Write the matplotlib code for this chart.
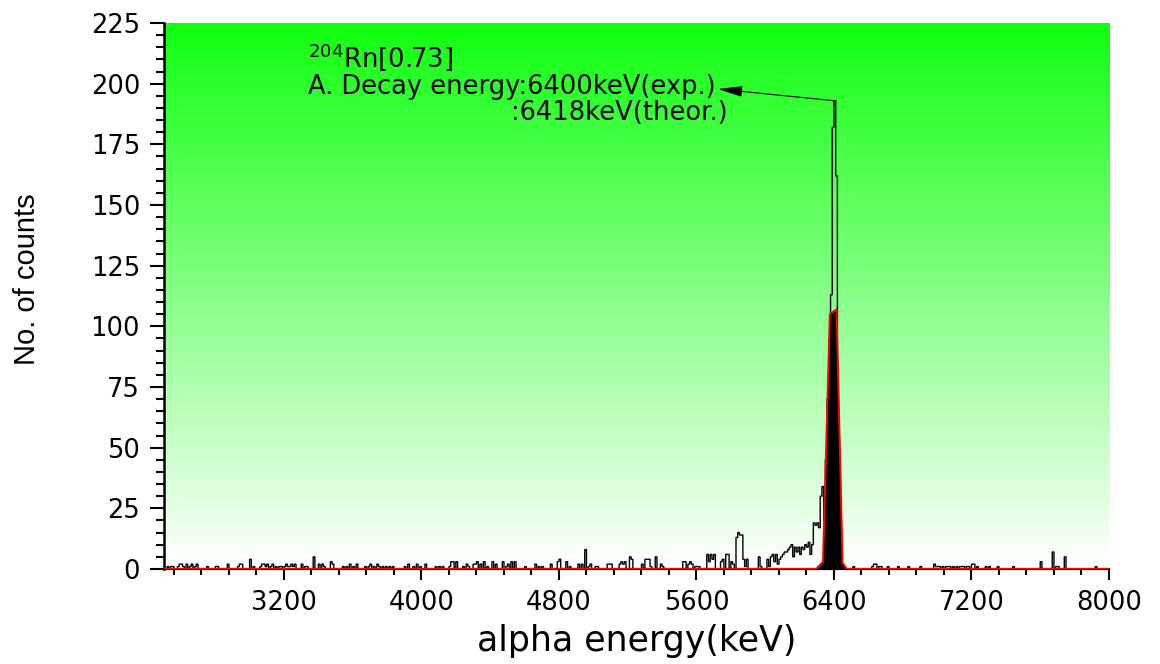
import numpy as np
import matplotlib
matplotlib.use("Agg")
import matplotlib.pyplot as plt
from matplotlib import font_manager
from matplotlib.ticker import MultipleLocator

# alpha spectrum in 10 keV bins: lower bin edge (keV) and counts, empty bins left out
bin_keV = [
    2520, 2540, 2550, 2580, 2590, 2600, 2610, 2630, 2650, 2660, 2680, 2690, 2750, 2800, 2810,
    2870, 2930, 2940, 2950, 3000, 3020, 3060, 3070, 3080, 3090, 3100, 3120, 3130, 3150, 3170,
    3180, 3200, 3210, 3220, 3230, 3240, 3250, 3260, 3300, 3320, 3330, 3370, 3400, 3420, 3430,
    3470, 3480, 3540, 3560, 3580, 3600, 3620, 3670, 3690, 3700, 3720, 3740, 3750, 3770, 3790,
    3810, 3830, 3900, 3920, 3950, 3970, 3990, 4020, 4080, 4100, 4120, 4160, 4170, 4180, 4200,
    4240, 4260, 4270, 4300, 4310, 4320, 4340, 4360, 4380, 4410, 4430, 4470, 4490, 4500, 4520,
    4540, 4600, 4660, 4680, 4700, 4750, 4790, 4800, 4840, 4860, 4910, 4930, 4950, 4970, 4980,
    5010, 5020, 5080, 5090, 5100, 5150, 5160, 5170, 5180, 5210, 5220, 5280, 5300, 5310, 5320,
    5330, 5360, 5390, 5400, 5520, 5530, 5550, 5560, 5570, 5590, 5600, 5610, 5660, 5670, 5680,
    5690, 5700, 5740, 5750, 5770, 5780, 5800, 5810, 5830, 5840, 5850, 5860, 5870, 5880, 5890,
    5960, 5970, 6010, 6020, 6030, 6040, 6050, 6060, 6070, 6080, 6090, 6100, 6110, 6120, 6130,
    6140, 6150, 6160, 6170, 6180, 6190, 6200, 6210, 6220, 6230, 6240, 6250, 6260, 6270, 6280,
    6290, 6300, 6310, 6320, 6330, 6340, 6350, 6360, 6370, 6380, 6390, 6400, 6410, 6420, 6430,
    6440, 6510, 6620, 6630, 6640, 6660, 6670, 6710, 6770, 6830, 6900, 6980, 6990, 7000, 7010,
    7030, 7050, 7060, 7070, 7090, 7110, 7130, 7140, 7150, 7170, 7180, 7200, 7210, 7230, 7280,
    7300, 7350, 7440, 7600, 7670, 7690, 7700, 7740, 7920,
]
bin_counts = [
    1, 1, 1, 1, 2, 2, 1, 2, 1, 2, 1, 2, 1, 1, 1,
    2, 1, 2, 2, 4, 1, 1, 2, 2, 1, 2, 1, 2, 1, 1,
    1, 1, 2, 1, 1, 2, 1, 2, 2, 1, 1, 5, 2, 2, 1,
    3, 2, 1, 1, 2, 1, 2, 1, 1, 2, 1, 2, 1, 1, 1,
    1, 1, 1, 2, 1, 2, 1, 2, 1, 1, 1, 1, 3, 3, 3,
    1, 2, 1, 2, 2, 3, 2, 3, 1, 3, 2, 3, 1, 2, 3,
    3, 1, 2, 1, 1, 2, 3, 4, 3, 1, 2, 2, 8, 1, 2,
    1, 1, 2, 2, 2, 2, 3, 2, 3, 5, 4, 2, 4, 4, 4,
    1, 5, 2, 1, 3, 3, 2, 3, 2, 1, 1, 1, 6, 3, 6,
    4, 6, 3, 4, 6, 6, 3, 2, 13, 15, 14, 14, 4, 1, 4,
    5, 1, 4, 1, 5, 6, 3, 6, 2, 4, 5, 6, 7, 7, 8,
    9, 10, 5, 9, 7, 9, 6, 9, 8, 10, 9, 11, 6, 10, 19,
    18, 19, 17, 30, 34, 20, 45, 70, 95, 113, 182, 193, 162, 60, 20,
    2, 1, 1, 2, 2, 1, 1, 1, 1, 1, 1, 2, 1, 1, 1,
    1, 1, 1, 1, 1, 1, 1, 1, 1, 1, 1, 2, 2, 1, 1,
    1, 1, 1, 3, 7, 1, 1, 5, 1,
]

# fitted line shape of the 204Rn alpha peak
fit_keV = [2500, 6296, 6336, 6376, 6415, 6450, 6475, 8000]
fit_counts = [0, 0, 3, 105, 107, 2.5, 0, 0]

E_MIN, E_MAX, BIN = 2500, 8000, 10
Y_MAX = 225

edges = np.arange(E_MIN, E_MAX + BIN, BIN)
counts = np.zeros(len(edges) - 1)
idx = ((np.array(bin_keV) - E_MIN) // BIN).astype(int)
counts[idx] = bin_counts

installed = {f.name for f in font_manager.fontManager.ttflist}
if "Liberation Sans Narrow" in installed:
    ylabel_font, ylabel_size = "Liberation Sans Narrow", 25
else:
    ylabel_font, ylabel_size = "Liberation Sans", 21

plt.rcParams["font.family"] = "DejaVu Sans"

fig = plt.figure(figsize=(11.6, 6.64), dpi=100)
ax = fig.add_axes([0.1411, 0.1431, 0.8149, 0.8223])

# green-to-white backdrop behind the spectrum
green = np.array([16, 255, 16]) / 255.0
t = np.linspace(0, 1, 256)[:, None]
grad = (1 - t) * 1.0 + t * green
ax.imshow(grad[:, None, :], origin="lower", extent=[E_MIN, E_MAX, 0, Y_MAX],
          aspect="auto", interpolation="bilinear", zorder=0)

ax.stairs(counts, edges, color="black", lw=1.0, zorder=2)
ax.fill_between(fit_keV, fit_counts, color="black", lw=0, zorder=3)
ax.plot(fit_keV, fit_counts, color="red", lw=1.4, zorder=4)

ax.set_xlim(E_MIN, E_MAX)
ax.set_ylim(0, Y_MAX)

ax.xaxis.set_major_locator(MultipleLocator(800))
ax.xaxis.set_minor_locator(MultipleLocator(160))
ax.yaxis.set_major_locator(MultipleLocator(25))
ax.yaxis.set_minor_locator(MultipleLocator(5))

for side in ("top", "right"):
    ax.spines[side].set_visible(False)
ax.spines["left"].set_linewidth(1.8)
ax.spines["bottom"].set_linewidth(1.6)

ax.tick_params(axis="x", which="major", direction="out", length=8, width=1.5,
               labelsize=18.5, pad=7)
ax.tick_params(axis="x", which="minor", direction="out", length=4, width=1.5)
ax.tick_params(axis="y", which="major", direction="out", length=10, width=1.5,
               labelsize=18.5, pad=7)
ax.tick_params(axis="y", which="minor", direction="out", length=6, width=1.5)

ax.set_xlabel("alpha energy(keV)", fontsize=25)
ax.xaxis.set_label_coords(0.5, -0.1)
ax.set_ylabel("No. of counts", fontsize=ylabel_size, family=ylabel_font, va="center")
ax.yaxis.set_label_coords(-0.145, 0.53)

ax.text(3340, 207, r"$^{204}$Rn[0.73]", fontsize=18.5, va="baseline", zorder=5)
ax.text(3340, 195.7, "A. Decay energy:6400keV(exp.)", fontsize=18.5, va="baseline", zorder=5)
ax.text(4520, 185, ":6418keV(theor.)", fontsize=18.5, va="baseline", zorder=5)
ax.annotate("", xy=(5725, 197.8), xytext=(6395, 193),
            arrowprops=dict(arrowstyle="-|>,head_length=1.0,head_width=0.22",
                            color="black", lw=0.8, mutation_scale=15,
                            shrinkA=0, shrinkB=0),
            zorder=5)

fig.savefig("out.png", dpi=100)
